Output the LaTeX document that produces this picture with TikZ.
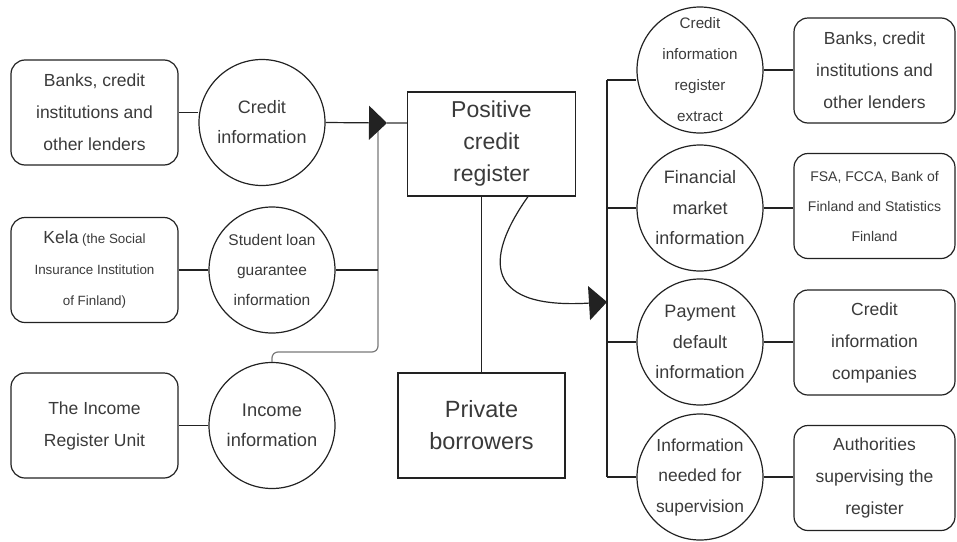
\documentclass[tikz,border=0pt]{standalone}
\usepackage{fontspec}
\setmainfont{Liberation Sans}
\usetikzlibrary{arrows.meta}

\definecolor{txtgray}{HTML}{3A3A3A}
\definecolor{linedark}{HTML}{222222}
\definecolor{linegray}{HTML}{7A7A7A}

\tikzset{
  srcbox/.style={draw=linedark, line width=1.2pt, rounded corners=14pt,
    minimum width=167pt, minimum height=105pt, align=center, text=txtgray,
    font=\fontsize{17.5}{32}\selectfont},
  regbox/.style={draw=linedark, line width=1.2pt, minimum width=168pt,
    minimum height=104pt, align=center, text=txtgray,
    font=\fontsize{23}{32}\selectfont},
  infocirc/.style={draw=linedark, line width=1.2pt, circle, minimum size=126pt,
    inner sep=-6pt, align=center, text=txtgray},
  link/.style={draw=linedark, line width=1.2pt},
  graylink/.style={draw=linegray, line width=1.2pt},
  bigtip/.style={-{Triangle[length=18pt,width=34pt]}},
}

\begin{document}
\begin{tikzpicture}[x=1pt, y=-1pt]
    \useasboundingbox (0,0) rectangle (957,541);

    % Sources on the left
    \node[srcbox] (banks) at (94.5,112.5) {Banks, credit\\institutions and\\other lenders};
    \node[srcbox, font=\fontsize{13.4}{31}\selectfont] (kela) at (94.5,270)
        {{\fontsize{17.5}{31}\selectfont Kela} (the Social\\Insurance Institution\\of Finland)};
    \node[srcbox] (incunit) at (94.5,425.5) {The Income\\Register Unit};

    % Information flowing in
    \node[infocirc, font=\fontsize{18}{30}\selectfont] (credinfo) at (262,122.5) {Credit\\information};
    \node[infocirc, font=\fontsize{15.5}{30}\selectfont] (loaninfo) at (272,270) {Student loan\\guarantee\\information};
    \node[infocirc, font=\fontsize{18.3}{30}\selectfont] (incinfo) at (272,425.5) {Income\\information};

    % The register and the borrowers
    \node[regbox] (register) at (491.5,144) {Positive\\credit\\register};
    \node[regbox, minimum width=167pt, minimum height=105pt,
          font=\fontsize{23.5}{32}\selectfont] (borrowers) at (481.5,425.5) {Private\\borrowers};

    % Information flowing out
    \node[infocirc, font=\fontsize{15.2}{31}\selectfont] (extract) at (700,70) {Credit\\information\\register\\extract};
    \node[infocirc, font=\fontsize{18}{30.5}\selectfont] (market) at (700,208) {Financial\\market\\information};
    \node[infocirc, font=\fontsize{18}{30.5}\selectfont] (default) at (700,342) {Payment\\default\\information};
    \node[infocirc, font=\fontsize{17.4}{30.5}\selectfont] (superv) at (700,477) {Information\\needed for\\supervision};

    % Receivers on the right
    \node[srcbox, minimum width=161pt] (lenders) at (874.5,70.5) {Banks, credit\\institutions and\\other lenders};
    \node[srcbox, minimum width=161pt, font=\fontsize{14}{30}\selectfont] (authors) at (874.5,206)
        {FSA, FCCA, Bank of\\Finland and Statistics\\Finland};
    \node[srcbox, minimum width=161pt] (credcomp) at (874.5,342.5) {Credit\\information\\companies};
    \node[srcbox, minimum width=161pt] (supauth) at (874.5,478) {Authorities\\supervising the\\register};

    % Junction points
    \coordinate (intip) at (387,123);
    \coordinate (injoin) at (378,123);
    \coordinate (incbend) at (378,352);
    \coordinate (outtip) at (607,302);
    \coordinate (bustop) at (607,80);
    \coordinate (busbot) at (607,477);

    % Left side connectors
    \draw[link] (banks.east) -- (banks.east -| credinfo.west);
    \draw[link] (kela.east) -- (loaninfo.west);
    \draw[link] (incunit.east) -- (incinfo.west);
    \draw[graylink, rounded corners=6pt] (injoin) -- (incbend) -- (incbend -| incinfo.north) -- (incinfo.north);
    \draw[link] (loaninfo.east) -- (loaninfo.east -| injoin);
    \draw[graylink] (intip) -- (intip -| register.west);
    \draw[link, bigtip] (credinfo.east) -- (intip);

    % Register to borrowers
    \draw[link] (borrowers.north) -- (borrowers.north |- register.south);

    % Register to the outgoing bus
    \draw[link, bigtip] ([xshift=36.5pt]register.south) .. controls (490,250) and (475,310) .. (outtip);
    \draw[link] (bustop) -- (busbot);

    % Right side connectors
    \draw[link] (bustop) -- (bustop -| extract.west);
    \draw[link] (market.west -| bustop) -- (market.west);
    \draw[link] (default.west -| bustop) -- (default.west);
    \draw[link] (superv.west -| bustop) -- (superv.west);
    \draw[link] (extract.east) -- (extract.east -| lenders.west);
    \draw[link] (market.east) -- (market.east -| authors.west);
    \draw[link] (default.east) -- (default.east -| credcomp.west);
    \draw[link] (superv.east) -- (superv.east -| supauth.west);
\end{tikzpicture}
\end{document}
